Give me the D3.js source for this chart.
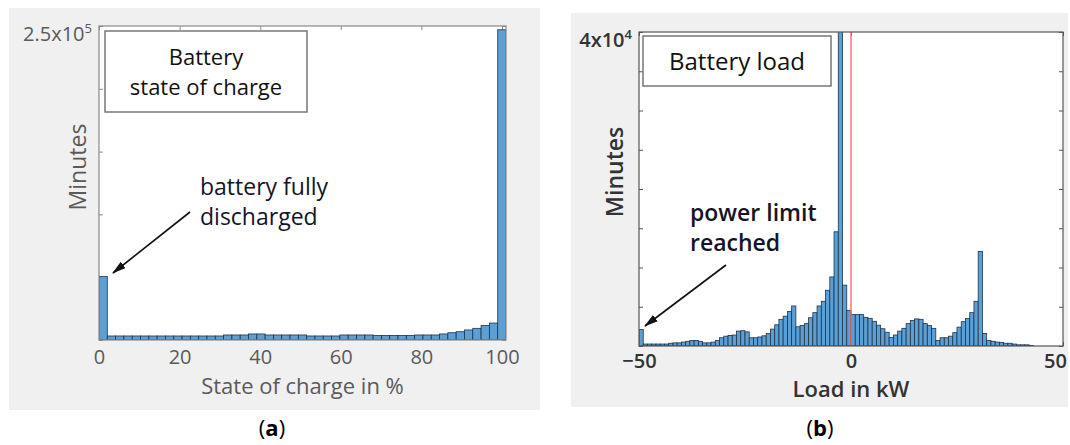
<!DOCTYPE html>
<html lang="en">
<head>
<meta charset="UTF-8">
<title>Battery histograms</title>
<script src="https://cdn.jsdelivr.net/npm/d3@7"></script>
<style>
  body { margin: 0; background: #fff; }
  svg text { font-family: "Open Sans", sans-serif; }
</style>
</head>
<body>
<script>

// (a) state of charge, 49 equal bins over 0..101 %
var socMax = 101;
var socCounts = [
  50500,
  3200, 3200, 3200, 3200, 3200, 3200, 3200, 3200, 3200, 3200, 3200, 3200, 3200, 3200,
  4000, 4000, 4000,
  4800, 4800,
  4000, 4000, 4000, 4000, 4000,
  3200, 3200, 3200, 3200,
  4000, 4000, 4000, 4000,
  3600, 3600, 3600, 3600, 3600,
  4000, 4000, 4000,
  4800, 5800, 6600, 8000, 9300, 11500, 13500,
  247000
];
var socXTicks = [0, 20, 40, 60, 80, 100];
var socYTicks = [0, 50000, 100000, 150000, 200000, 250000];

// (b) battery load, 1 kW bins starting at -50 kW
var loadStart = -50;
var loadCounts = [
  2100, 250, 250, 250, 250, 250, 250, 350, 400, 400,
  500, 600, 700, 700, 600, 400, 400, 500, 700, 1050,
  1250, 1350, 1400, 1900, 1950, 1800, 1050, 1050, 1150, 1300,
  1600, 2150, 2700, 3400, 3800, 4400, 5100, 2450, 2600, 2850,
  3600, 4250, 5100, 5700, 7100, 8800, 14550, 45000, 7750, 4550,
  4000, 4000, 4000, 3650, 3500, 3150, 2650, 2200, 1750, 1100,
  1400, 1900, 2250, 2850, 3250, 3450, 3400, 2850, 2600, 2250,
  700, 1050, 1050, 1250, 1700, 2400, 3100, 3500, 4250, 5700,
  12050, 1600, 700, 600, 500, 450, 350, 350, 250, 150,
  150, 150, 80, 0, 0, 0, 0, 0, 0, 0
];
var loadXTicks = [-50, 0, 50];
var loadYTicks = [0, 5000, 10000, 15000, 20000, 25000, 30000, 35000, 40000];

var svg = d3.select("body").append("svg")
    .attr("width", 1070)
    .attr("height", 445);

var defs = svg.append("defs");
defs.append("marker")
    .attr("id", "head")
    .attr("viewBox", "0 0 14 8")
    .attr("refX", 13).attr("refY", 4)
    .attr("markerWidth", 14).attr("markerHeight", 8)
    .attr("markerUnits", "userSpaceOnUse")
    .attr("orient", "auto")
  .append("path")
    .attr("d", "M0,0L14,4L0,8Z")
    .attr("fill", "#111");

function drawPanel(o) {
  var g = svg.append("g");

  g.append("rect")
      .attr("x", o.bg[0]).attr("y", o.bg[1])
      .attr("width", o.bg[2]).attr("height", o.bg[3])
      .attr("fill", "#f0f0f0");

  g.append("rect")
      .attr("x", o.l).attr("y", o.t)
      .attr("width", o.r - o.l).attr("height", o.b - o.t)
      .attr("fill", "#fff");

  var x = d3.scaleLinear().domain(o.xDomain).range([o.l, o.r]);
  var y = d3.scaleLinear().domain([0, o.yMax]).range([o.b, o.t]);

  // inward ticks on all four sides
  g.append("g").attr("transform", "translate(" + o.l + ",0)")
      .call(d3.axisLeft(y).tickValues(o.yTicks).tickSize(-4).tickFormat(""));
  g.append("g").attr("transform", "translate(" + o.r + ",0)")
      .call(d3.axisRight(y).tickValues(o.yTicks).tickSize(-4).tickFormat(""));
  g.append("g").attr("transform", "translate(0," + o.t + ")")
      .call(d3.axisTop(x).tickValues(o.xTicks).tickSize(-4).tickFormat(""));
  var bottom = g.append("g").attr("transform", "translate(0," + o.b + ")")
      .call(d3.axisBottom(x).tickValues(o.xTicks).tickSize(-4).tickPadding(o.pad));
  g.selectAll(".domain").remove();
  g.selectAll(".tick line").attr("stroke", o.axisColor);
  bottom.selectAll("text")
      .attr("font-size", 20)
      .attr("font-weight", o.weight)
      .attr("fill", o.textColor);
  // last label sits a little inside the right edge, as in the figure
  if (o.lastShift) {
    bottom.selectAll(".tick").filter(function(d, i, n) { return i === n.length - 1; })
        .select("text").attr("dx", o.lastShift);
  }

  var clipId = "clip" + o.name;
  defs.append("clipPath").attr("id", clipId)
    .append("rect")
      .attr("x", o.l).attr("y", o.t)
      .attr("width", o.r - o.l).attr("height", o.b - o.t);

  g.append("g").attr("clip-path", "url(#" + clipId + ")")
    .selectAll("rect")
    .data(o.bins)
    .enter().append("rect")
      .attr("x", function(d) { return x(d.x0); })
      .attr("width", function(d) { return x(d.x1) - x(d.x0); })
      .attr("y", function(d) { return y(d.v); })
      .attr("height", function(d) { return y(0) - y(d.v); })
      .attr("fill", "#5a9fd6")
      .attr("stroke", "#1f3447")
      .attr("stroke-width", 0.8);

  if (o.redLine !== undefined) {
    g.append("line")
        .attr("x1", x(o.redLine)).attr("x2", x(o.redLine))
        .attr("y1", o.t).attr("y2", o.b)
        .attr("stroke", "#ff6b6b")
        .attr("stroke-width", 1.4);
  }

  g.append("rect")
      .attr("x", o.l).attr("y", o.t)
      .attr("width", o.r - o.l).attr("height", o.b - o.t)
      .attr("fill", "none")
      .attr("stroke", o.axisColor)
      .attr("stroke-width", 1.2);

  // top y label written as a power of ten
  var top = g.append("text")
      .attr("x", o.l - 7).attr("y", o.t + 15)
      .attr("text-anchor", "end")
      .attr("font-size", 20)
      .attr("font-weight", o.weight)
      .attr("fill", o.textColor);
  top.append("tspan").text(o.topLabel[0]);
  top.append("tspan").attr("dy", -8).attr("font-size", 13).text(o.topLabel[1]);

  g.append("text")
      .attr("transform", "translate(" + o.yLabelPos[0] + "," + o.yLabelPos[1] + ") rotate(-90)")
      .attr("text-anchor", "middle")
      .attr("font-size", 23)
      .attr("font-weight", o.weight)
      .attr("fill", o.textColor)
      .text("Minutes");

  g.append("text")
      .attr("x", (o.l + o.r) / 2).attr("y", o.xLabelY)
      .attr("text-anchor", "middle")
      .attr("font-size", 22)
      .attr("font-weight", o.weight)
      .attr("fill", o.textColor)
      .text(o.xLabel);

  // title box
  g.append("rect")
      .attr("x", o.box[0]).attr("y", o.box[1])
      .attr("width", o.box[2]).attr("height", o.box[3])
      .attr("fill", "#fff")
      .attr("stroke", "#777")
      .attr("stroke-width", 1.5);
  o.boxLines.forEach(function(s, i) {
    g.append("text")
        .attr("x", o.box[0] + o.box[2] / 2)
        .attr("y", o.boxTextY + i * 30)
        .attr("text-anchor", "middle")
        .attr("font-size", o.boxFont)
        .attr("fill", "#111")
        .text(s);
  });

  // annotation with arrow
  o.note.forEach(function(s, i) {
    g.append("text")
        .attr("x", o.noteX).attr("y", o.noteY + i * 30)
        .attr("font-size", 23)
        .attr("font-weight", o.noteWeight)
        .attr("fill", "#141428")
        .text(s);
  });
  g.append("line")
      .attr("x1", o.arrow[0]).attr("y1", o.arrow[1])
      .attr("x2", o.arrow[2]).attr("y2", o.arrow[3])
      .attr("stroke", "#111")
      .attr("stroke-width", 1.6)
      .attr("marker-end", "url(#head)");
}

var socBins = socCounts.map(function(v, i) {
  var w = socMax / socCounts.length;
  return { x0: i * w, x1: (i + 1) * w, v: v };
});
var loadBins = loadCounts.map(function(v, i) {
  return { x0: loadStart + i, x1: loadStart + i + 1, v: v };
});

drawPanel({
  name: "a",
  bg: [9, 8, 531, 402],
  l: 99, t: 26, r: 506, b: 340,
  xDomain: [0, socMax], yMax: 250000,
  xTicks: socXTicks, yTicks: socYTicks,
  bins: socBins,
  pad: 10,
  axisColor: "#8a8a8a", textColor: "#5a5a5a", weight: 400,
  topLabel: ["2.5x10", "5"],
  yLabelPos: [86, 167],
  xLabel: "State of charge in %", xLabelY: 394,
  box: [105, 31, 202, 81], boxLines: ["Battery", "state of charge"], boxTextY: 65, boxFont: 22,
  note: ["battery fully", "discharged"], noteX: 200, noteY: 195, noteWeight: 400,
  arrow: [190, 212, 113, 273]
});

drawPanel({
  name: "b",
  bg: [571, 13, 497, 394],
  l: 639, t: 32, r: 1063, b: 346,
  xDomain: [loadStart, loadStart + loadCounts.length], yMax: 40000,
  xTicks: loadXTicks, yTicks: loadYTicks,
  bins: loadBins,
  redLine: 0,
  pad: 8,
  lastShift: -8,
  axisColor: "#555", textColor: "#333", weight: 600,
  topLabel: ["4x10", "4"],
  yLabelPos: [623, 172],
  xLabel: "Load in kW", xLabelY: 397,
  box: [643, 36, 188, 50], boxLines: ["Battery load"], boxTextY: 70, boxFont: 24,
  note: ["power limit", "reached"], noteX: 690, noteY: 221, noteWeight: 600,
  arrow: [726, 265, 645, 326]
});

// sub-figure captions
[["(", "a", ")", 272], ["(", "b", ")", 820]].forEach(function(c) {
  var t = svg.append("text")
      .attr("x", c[3]).attr("y", 436)
      .attr("text-anchor", "middle")
      .attr("font-family", "DejaVu Serif")
      .attr("font-size", 22)
      .attr("fill", "#000");
  t.append("tspan").text(c[0]);
  t.append("tspan").attr("font-weight", "bold").text(c[1]);
  t.append("tspan").text(c[2]);
});

</script>
</body>
</html>
